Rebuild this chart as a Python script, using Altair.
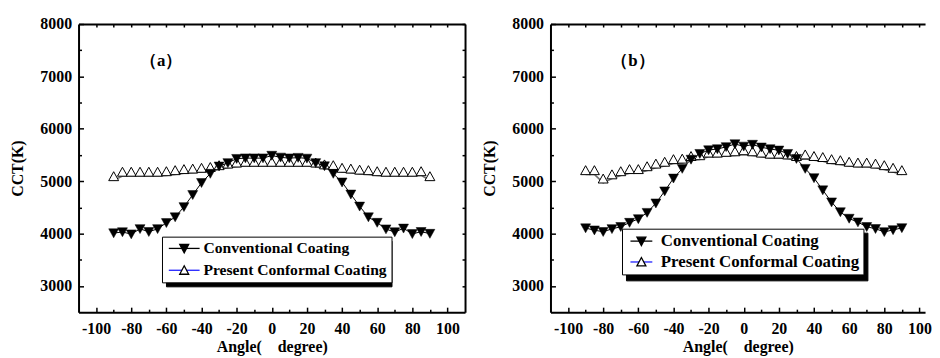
import altair as alt
import pandas as pd

# ---------------- data ----------------
angles = [-90, -85, -80, -75, -70, -65, -60, -55, -50, -45, -40, -35, -30, -25, -20, -15, -10, -5,
          0, 5, 10, 15, 20, 25, 30, 35, 40, 45, 50, 55, 60, 65, 70, 75, 80, 85, 90]

conv_a = [4010, 4030, 3990, 4090, 4035, 4090, 4205, 4315, 4510, 4740, 4970, 5145, 5285, 5350, 5430, 5440, 5440, 5440,
          5490, 5455, 5440, 5450, 5435, 5350, 5290, 5145, 4980, 4750, 4520, 4315, 4210, 4085, 4030, 4100, 3995, 4035, 4000]
pres_a = [5015, 5100, 5100, 5100, 5100, 5100, 5110, 5130, 5150, 5160, 5175, 5190, 5225, 5255, 5275, 5290, 5290, 5290,
          5290, 5290, 5290, 5290, 5290, 5275, 5240, 5225, 5175, 5160, 5140, 5130, 5110, 5100, 5100, 5100, 5100, 5110, 5015]
conv_b = [4105, 4065, 4035, 4090, 4130, 4210, 4280, 4400, 4580, 4810, 5055, 5240, 5415, 5525, 5595, 5615, 5655, 5710,
          5665, 5700, 5648, 5615, 5590, 5525, 5430, 5240, 5062, 4830, 4600, 4412, 4288, 4218, 4130, 4092, 4032, 4070, 4108]
pres_b = [5130, 5130, 4970, 5050, 5110, 5150, 5150, 5205, 5255, 5290, 5340, 5350, 5400, 5415, 5465, 5465, 5480, 5490,
          5510, 5490, 5465, 5445, 5445, 5430, 5400, 5430, 5400, 5380, 5340, 5320, 5290, 5275, 5275, 5255, 5225, 5175, 5130]

series_names = ["Conventional Coating", "Present Conformal Coating"]
panel_tags = ["（a）", "（b）"]
tag_angle = [-63, -63]
tag_cct = [7300, 7290]

x_major = [-100, -80, -60, -40, -20, 0, 20, 40, 60, 80, 100]
x_minor = [-90, -70, -50, -30, -10, 10, 30, 50, 70, 90]
x_top = [-100, -90, -80, -70, -60, -50, -40, -30, -20, -10, 0, 10, 20, 30, 40, 50, 60, 70, 80, 90, 100]
y_major = [3000, 4000, 5000, 6000, 7000, 8000]
y_minor = [3500, 4500, 5500, 6500, 7500]
y_right = [3000, 3500, 4000, 4500, 5000, 5500, 6000, 6500, 7000, 7500, 8000]

# ---------------- layout / styling ----------------
FONT = "Liberation Serif"
H = 290
W = 852                     # whole plotting strip holding both panels
DOWN = "M-1,-0.85L1,-0.85L0,0.95Z"
UP = "M0,-1.75L1,0.05L-1,0.05Z"


def make_legend(lx, ly, fs, rp, lo, **kw):
    return alt.Legend(orient="none", legendX=lx, legendY=ly, title=None, direction="vertical",
                      padding=4, rowPadding=rp, labelOffset=lo, symbolSize=100,
                      labelFont=FONT, labelFontSize=fs, labelFontWeight="bold", labelLimit=400,
                      symbolStrokeWidth=1.3, **kw)


def panel(conv, pres, tag, tx, ty, r0, r1, xmax, lg):
    n = len(angles)
    sers = [series_names[0]] * n + [series_names[1]] * n
    df = pd.DataFrame({"angle": angles + angles, "cct": conv + pres,
                       "series": sers, "leg1": sers, "leg2": sers, "leg3": sers})
    xs = alt.Scale(domain=[-110, xmax], range=[r0, r1], nice=False, zero=False)
    ys = alt.Scale(domain=[2500, 8000], nice=False, zero=False)
    base = alt.Chart(df)
    is_conv = alt.datum.series == series_names[0]
    is_pres = alt.datum.series == series_names[1]

    x_main = alt.X("angle:Q", scale=xs, axis=alt.Axis(
        orient="bottom", values=x_major, ticks=False, title="Angle(\u3000degree)",
        labelPadding=8, titlePadding=3, labelFlush=False, domainWidth=2,
        labelExpr="'' + datum.value"))
    y_main = alt.Y("cct:Q", scale=ys, axis=alt.Axis(
        orient="left", offset=-r0, values=y_major, ticks=False, title="CCT(K)",
        labelPadding=7, titlePadding=14, domainWidth=2, labelExpr="'' + datum.value"))
    xn = alt.X("angle:Q", scale=xs, axis=None)
    yn = alt.Y("cct:Q", scale=ys, axis=None)

    layers = []
    layers.append(base.transform_filter(is_conv).mark_line(color="black", strokeWidth=1)
                  .encode(x=x_main, y=y_main))
    layers.append(base.transform_filter(is_pres).mark_line(color="#707070", strokeWidth=1.6)
                  .encode(x=xn, y=yn))
    layers.append(base.transform_filter(is_pres).mark_point(
        shape=UP, size=100, filled=True, fill="white", stroke="black", strokeWidth=1, opacity=1)
        .encode(x=xn, y=yn))
    layers.append(base.transform_filter(is_conv).mark_point(
        shape=DOWN, size=100, filled=True, fill="black", stroke="black", strokeWidth=0.5, opacity=1)
        .encode(x=xn, y=yn))

    def xt(orient, offset, values, size, domain):
        return base.mark_point(opacity=0, size=1).encode(
            x=alt.X("angle:Q", scale=xs, axis=alt.Axis(
                orient=orient, offset=offset, values=values, tickSize=size, labels=False,
                domain=domain, title=None, grid=False, tickWidth=1.5, domainWidth=2)),
            y=yn)

    def yt(orient, offset, values, size, domain):
        return base.mark_point(opacity=0, size=1).encode(
            y=alt.Y("cct:Q", scale=ys, axis=alt.Axis(
                orient=orient, offset=offset, values=values, tickSize=size, labels=False,
                domain=domain, title=None, grid=False, tickWidth=1.5, domainWidth=2)),
            x=xn)

    layers.append(xt("top", -H, x_major, 5, False))          # inward major ticks, bottom edge
    layers.append(xt("top", -H, x_minor, 3, False))          # inward minor ticks, bottom edge
    layers.append(xt("bottom", -H, x_top, 3, True))          # top frame line
    layers.append(yt("right", r0 - W, y_major, 5, False))    # inward major ticks, left edge
    layers.append(yt("right", r0 - W, y_minor, 3, False))    # inward minor ticks, left edge
    if lg["right"]:
        layers.append(yt("left", -r1, y_right, 3, True))     # right frame line

    tag_df = pd.DataFrame({"angle": [tx], "cct": [ty], "t": [tag]})
    layers.append(alt.Chart(tag_df).mark_text(font=FONT, fontSize=17, fontWeight="bold", color="black")
                  .encode(x=xn, y=yn, text="t:N"))

    lx, ly = r0 + lg["x"], lg["y"]
    fs, rp, lo = lg["fs"], lg["rp"], lg["lo"]
    # drop shadow of the legend box (black box, its symbols are black bars filling each row)
    shadow_leg = make_legend(lx + 4, ly + 4, fs, rp, lo, fillColor="black", strokeColor="black",
                             labelExpr="''", symbolFillColor="black", symbolStrokeColor="black", zindex=1)
    layers.append(base.mark_point(opacity=0, size=1).encode(
        x=xn, y=yn,
        shape=alt.Shape("leg1:N", scale=alt.Scale(domain=series_names, range=[lg["bar"], lg["bar"]]),
                        legend=shadow_leg)))
    # legend box, labels and line samples
    line_leg = make_legend(lx, ly, fs, rp, lo, fillColor="white", strokeColor="black",
                           labelColor="black", symbolOpacity=1, zindex=2)
    layers.append(base.mark_point(opacity=0, size=1).encode(
        x=xn, y=yn,
        shape=alt.Shape("leg2:N", scale=alt.Scale(domain=series_names, range=[lg["line"], lg["line"]]),
                        legend=line_leg),
        stroke=alt.Stroke("leg2:N", scale=alt.Scale(domain=series_names, range=["black", "#2020ff"]),
                          legend=line_leg)))
    # triangle markers on top of the line samples
    tri_leg = make_legend(lx, ly, fs, rp, lo, labelExpr="''", symbolOpacity=1, zindex=3)
    layers.append(base.mark_point(opacity=0, size=1).encode(
        x=xn, y=yn,
        shape=alt.Shape("leg3:N", scale=alt.Scale(domain=series_names, range=[lg["down"], lg["up"]]),
                        legend=tri_leg),
        fill=alt.Fill("leg3:N", scale=alt.Scale(domain=series_names, range=["black", "white"]),
                      legend=tri_leg),
        stroke=alt.Stroke("leg3:N", scale=alt.Scale(domain=series_names, range=["black", "black"]),
                          legend=tri_leg)))

    return (alt.layer(*layers)
            .resolve_scale(shape="independent", stroke="independent", fill="independent")
            .resolve_legend(shape="independent", stroke="independent", fill="independent")
            .resolve_axis(x="independent", y="independent"))


leg_a = {"x": 84, "y": 214, "fs": 15.7, "rp": 5, "lo": 22, "right": True,
         "line": "M-1,0H5.2", "down": "M1.2,-0.8L3,-0.8L2.1,0.9Z", "up": "M2.1,-0.9L3,0.8L1.2,0.8Z",
         "bar": "M-1,-1.1H41.6V1.1H-1Z"}
leg_b = {"x": 72, "y": 206, "fs": 17, "rp": 3, "lo": 18, "right": False,
         "line": "M-0.8,0H3.6", "down": "M0.5,-0.8L2.3,-0.8L1.4,0.9Z", "up": "M1.4,-0.9L2.3,0.8L0.5,0.8Z",
         "bar": "M-1,-1.3H44.6V1.3H-1Z"}

# panel (a): x range 0..389 px for -110..110; panel (b) uses the same px per degree, cut at the right edge
pa = panel(conv_a, pres_a, panel_tags[0], tag_angle[0], tag_cct[0], 0, 389, 110, leg_a)
pb = panel(conv_b, pres_b, panel_tags[1], tag_angle[1], tag_cct[1], 475, 852, 103.2, leg_b)

chart = (alt.layer(pa, pb)
         .resolve_scale(x="independent", shape="independent", stroke="independent", fill="independent")
         .resolve_legend(shape="independent", stroke="independent", fill="independent")
         .resolve_axis(x="independent", y="independent")
         .properties(width=W, height=H, padding={"left": 2, "top": 7, "right": 0, "bottom": 0})
         .configure_view(stroke="transparent")
         .configure_axis(labelFont=FONT, labelFontSize=16, labelFontWeight="bold", labelColor="black",
                         titleFont=FONT, titleFontSize=16, titleFontWeight="bold", titleColor="black",
                         domainColor="black", tickColor="black", grid=False)
         .configure_legend(labelColor="black"))

chart.save("out.html", embed_options={"renderer": "svg", "actions": False})
